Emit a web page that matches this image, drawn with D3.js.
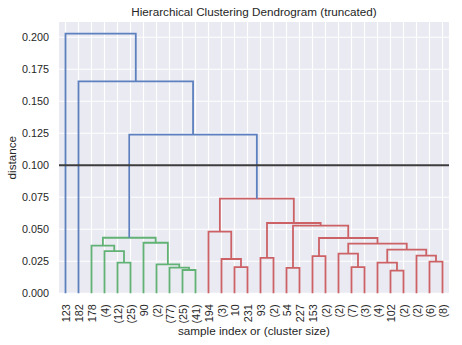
<!DOCTYPE html>
<html>
<head>
<meta charset="utf-8">
<script src="https://cdn.jsdelivr.net/npm/d3@7"></script>
<style>
  html, body { margin: 0; padding: 0; background: #ffffff; }
  svg { display: block; }
  text { font-family: "Liberation Sans", Arial, sans-serif; fill: #262626; }
</style>
</head>
<body>
<svg id="chart" width="462" height="345"></svg>
<script>
// ---- data ----
const leafLabels = ["123","182","178","(4)","(12)","(25)","90","(2)","(77)","(25)","(41)",
  "194","(3)","10","231","93","(2)","54","227","153","(2)","(2)","(7)","(3)","(4)","102","(2)","(2)","(6)","(8)"];
// merges: [left id, right id, distance, cluster]; leaves are 0..29, merge k gets id 30+k
const mergeLeft  = [4,3,2,9,8,7,6,32, 13,12,11,15,17,19,22,21,25,24,28,27,47,45,43,42,41,40, 37,1,0];
const mergeRight = [5,30,31,10,33,34,35,36, 14,38,39,16,18,20,23,44,26,46,29,48,49,50,51,52,53,54, 55,56,57];
const mergeDist  = [0.0239,0.0330,0.0372,0.0182,0.0200,0.0226,0.0395,0.0434,
  0.0205,0.0268,0.0481,0.0276,0.0198,0.0291,0.0205,0.0310,0.0177,0.0239,0.0247,0.0294,0.0341,0.0388,0.0432,0.0528,0.0549,0.0739,
  0.1239,0.1656,0.2028];
const mergeGroup = ["g","g","g","g","g","g","g","g",
  "r","r","r","r","r","r","r","r","r","r","r","r","r","r","r","r","r","r",
  "b","b","b"];
const yTicks = [0,0.025,0.05,0.075,0.1,0.125,0.15,0.175,0.2];
const cutDistance = 0.1;
const titleText = "Hierarchical Clustering Dendrogram (truncated)";
const xLabelText = "sample index or (cluster size)";
const yLabelText = "distance";

// ---- layout ----
const colors = { b: "#5d80bf", g: "#62b276", r: "#cc6266" };
const svg = d3.select("#chart");
const pL = 59, pR = 449, pT = 22, pB = 293.3;
const n = leafLabels.length;
const x = d3.scaleLinear().domain([0, n * 10]).range([pL, pR]);
const yMax = d3.max(mergeDist) * 1.045;
const y = d3.scaleLinear().domain([0, yMax]).range([pB, pT]);

// background
svg.append("rect").attr("x", pL).attr("y", pT)
  .attr("width", pR - pL).attr("height", pB - pT).attr("fill", "#eaeaf2");

// grid
const leafPos = leafLabels.map((_, i) => i * 10 + 5);
svg.append("g").selectAll("line").data(leafPos).join("line")
  .attr("x1", d => x(d)).attr("x2", d => x(d)).attr("y1", pT).attr("y2", pB)
  .attr("stroke", "#fff").attr("stroke-width", 1.1);
svg.append("g").selectAll("line").data(yTicks).join("line")
  .attr("x1", pL).attr("x2", pR).attr("y1", d => y(d)).attr("y2", d => y(d))
  .attr("stroke", "#fff").attr("stroke-width", 1.1);

// y axis
const yAxis = d3.axisLeft(y).tickValues(yTicks).tickFormat(d3.format(".3f")).tickSize(0).tickPadding(10);
const yg = svg.append("g").attr("transform", `translate(${pL},0)`).call(yAxis);
yg.select(".domain").remove();
yg.selectAll("text").attr("font-size", 10.8).attr("fill", "#262626")
  .style("font-family", "'Liberation Sans', Arial, sans-serif");

// x axis
const xAxis = d3.axisBottom(x).tickValues(leafPos).tickFormat((d, i) => leafLabels[i]).tickSize(0).tickPadding(0);
const xg = svg.append("g").attr("transform", `translate(0,${pB})`).call(xAxis);
xg.select(".domain").remove();
xg.selectAll("text")
  .attr("font-size", 10.8).attr("fill", "#262626")
  .style("font-family", "'Liberation Sans', Arial, sans-serif")
  .attr("text-anchor", "end").attr("dy", "0.35em")
  .attr("transform", "translate(0,11) rotate(-90)")
  .attr("x", 0).attr("y", 0);

// dendrogram
const nodeX = leafPos.slice();
const nodeY = leafPos.map(() => 0);
const links = [];
mergeLeft.forEach((l, k) => {
  const r = mergeRight[k], d = mergeDist[k];
  links.push({ xl: nodeX[l], yl: nodeY[l], xr: nodeX[r], yr: nodeY[r], d, g: mergeGroup[k] });
  nodeX.push((nodeX[l] + nodeX[r]) / 2);
  nodeY.push(d);
});
svg.append("g").selectAll("path").data(links).join("path")
  .attr("d", o => `M${x(o.xl)},${y(o.yl)}V${y(o.d)}H${x(o.xr)}V${y(o.yr)}`)
  .attr("fill", "none").attr("stroke", o => colors[o.g]).attr("stroke-width", 1.8);

// cut line
svg.append("line").attr("x1", pL).attr("x2", pR)
  .attr("y1", y(cutDistance)).attr("y2", y(cutDistance))
  .attr("stroke", "#3d3d3d").attr("stroke-width", 2);

// labels
svg.append("text").attr("x", (pL + pR) / 2).attr("y", 15.5)
  .attr("text-anchor", "middle").attr("font-size", 11.7).text(titleText);
svg.append("text").attr("x", (pL + pR) / 2).attr("y", 335)
  .attr("text-anchor", "middle").attr("font-size", 11.7).text(xLabelText);
svg.append("text").attr("transform", `translate(16,${(pT + pB) / 2}) rotate(-90)`)
  .attr("text-anchor", "middle").attr("font-size", 11.7).text(yLabelText);
</script>
</body>
</html>
